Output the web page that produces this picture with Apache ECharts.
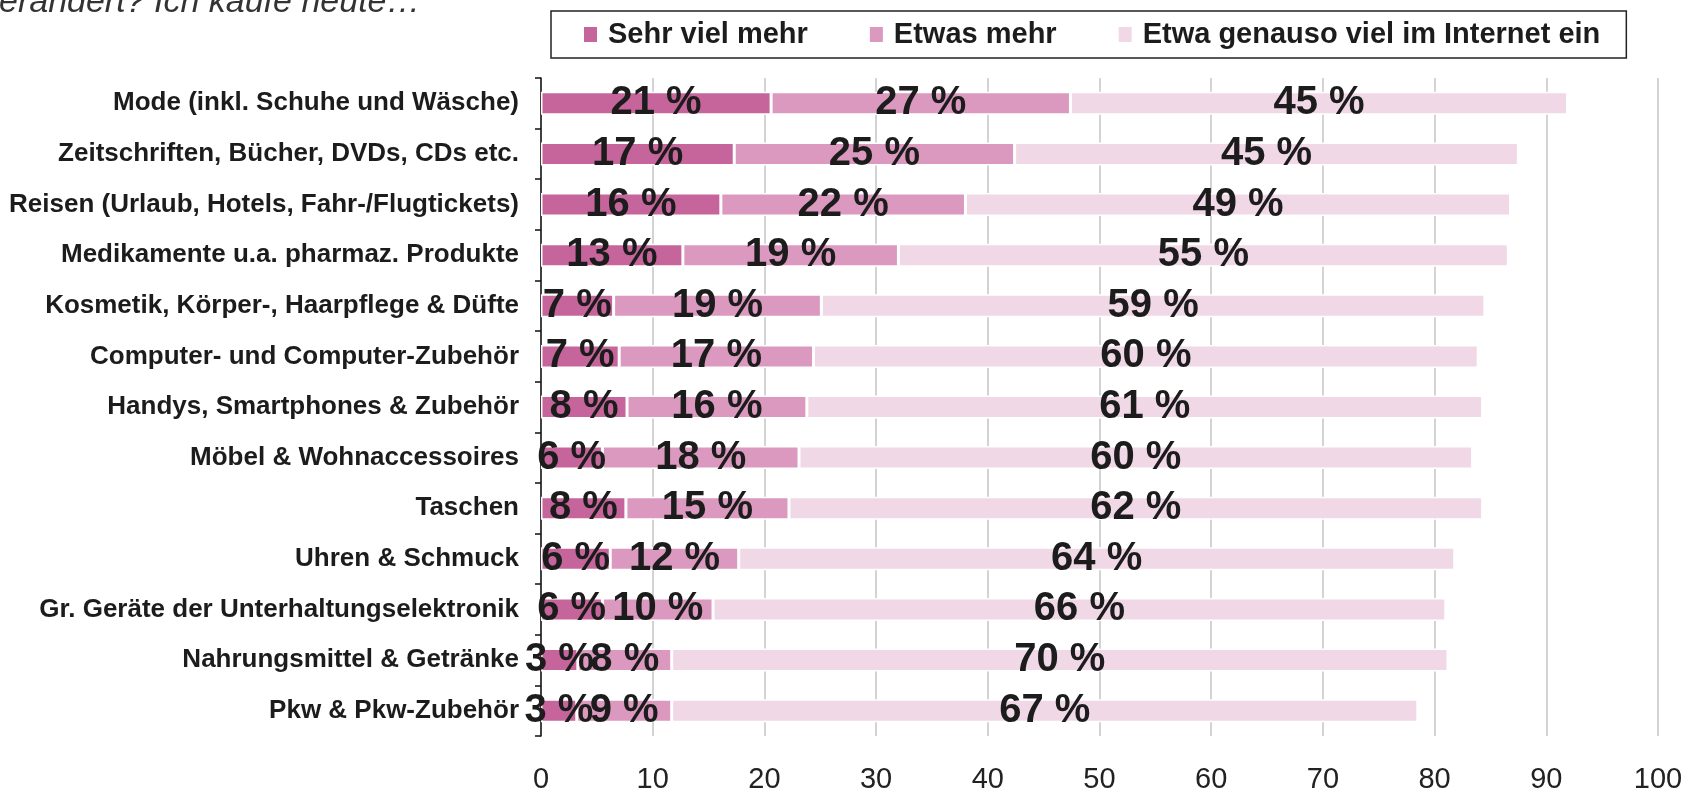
<!DOCTYPE html>
<html>
<head>
<meta charset="utf-8">
<style>
    html, body { margin: 0; padding: 0; background: #fff; }
    #chart { width: 1700px; height: 793px; }
</style>
<script src="https://cdn.jsdelivr.net/npm/echarts@6/dist/echarts.min.js"></script>
</head>
<body>
<div id="chart"></div>
<script>
// Kategorien von oben nach unten
const categories = [
    'Mode (inkl. Schuhe und Wäsche)',
    'Zeitschriften, Bücher, DVDs, CDs etc.',
    'Reisen (Urlaub, Hotels, Fahr-/Flugtickets)',
    'Medikamente u.a. pharmaz. Produkte',
    'Kosmetik, Körper-, Haarpflege & Düfte',
    'Computer- und Computer-Zubehör',
    'Handys, Smartphones & Zubehör',
    'Möbel & Wohnaccessoires',
    'Taschen',
    'Uhren & Schmuck',
    'Gr. Geräte der Unterhaltungselektronik',
    'Nahrungsmittel & Getränke',
    'Pkw & Pkw-Zubehör'
]

const seriesNames = ['Sehr viel mehr', 'Etwas mehr', 'Etwa genauso viel im Internet ein']

const sehrVielMehr = [20.6, 17.3, 16.1, 12.7, 6.5, 7.0, 7.7, 5.5, 7.6, 6.2, 5.5, 3.3, 3.2]
const etwasMehr    = [26.8, 25.1, 21.9, 19.3, 18.6, 17.4, 16.1, 17.6, 14.6, 11.5, 9.9, 8.4, 8.5]
const genausoViel  = [44.5, 45.1, 48.8, 54.6, 59.4, 59.5, 60.5, 60.3, 62.1, 64.1, 65.6, 69.5, 66.8]

const xTicks = [0, 10, 20, 30, 40, 50, 60, 70, 80, 90, 100]

const colors = ['#c6659b', '#db99bf', '#f1d8e6']
const FONT = 'Liberation Sans, Arial, sans-serif'

const chart = echarts.init(document.getElementById('chart'))

function makeSeries(name, data, color) {
    return {
        name,
        type: 'bar',
        stack: 'total',
        data,
        barWidth: 23,
        itemStyle: { color, borderColor: '#fff', borderWidth: 1.5 },
        label: {
            show: true,
            position: 'inside',
            formatter: p => Math.round(p.value) + ' %',
            color: '#1c1c1c',
            fontFamily: FONT,
            fontWeight: 'bold',
            fontSize: 40,
        },
        emphasis: { disabled: true },
    }
}

chart.setOption({
    animation: false,
    graphic: [{
        type: 'text',
        left: -18,
        top: -14,
        style: {
            text: 'verändert? Ich kaufe heute…',
            font: 'italic 34px ' + FONT,
            fill: '#333',
        },
    }],
    legend: {
        left: 551,
        top: 11,
        orient: 'horizontal',
        icon: 'rect',
        itemWidth: 15,
        itemHeight: 17,
        itemGap: 60,
        padding: [9, 26, 9, 31],
        borderColor: '#222',
        borderWidth: 1.5,
        textStyle: {
            fontFamily: FONT,
            fontWeight: 'bold',
            fontSize: 29,
            color: '#1c1c1c',
            padding: [0, 0, 0, 5],
        },
        data: seriesNames,
    },
    grid: { left: 541, right: 42, top: 78, bottom: 57, outerBoundsMode: 'none' },
    xAxis: {
        type: 'value',
        min: xTicks[0],
        max: xTicks[xTicks.length - 1],
        interval: 10,
        axisLine: { show: false },
        axisTick: { show: false },
        axisLabel: {
            margin: 29,
            fontFamily: FONT,
            fontSize: 29,
            color: '#222',
            formatter: v => String(v),
        },
        splitLine: { show: true, lineStyle: { color: '#d3d3d3', width: 2 } },
    },
    yAxis: {
        type: 'category',
        data: categories,
        inverse: true,
        axisLine: { show: true, lineStyle: { color: '#111', width: 1.5 } },
        axisTick: { show: true, length: 6, lineStyle: { color: '#111', width: 1.5 } },
        axisLabel: {
            interval: 0,
            margin: 22,
            fontFamily: FONT,
            fontWeight: 'bold',
            fontSize: 26,
            color: '#1c1c1c',
        },
    },
    series: [
        makeSeries(seriesNames[0], sehrVielMehr, colors[0]),
        makeSeries(seriesNames[1], etwasMehr, colors[1]),
        makeSeries(seriesNames[2], genausoViel, colors[2]),
    ],
})
</script>
</body>
</html>
